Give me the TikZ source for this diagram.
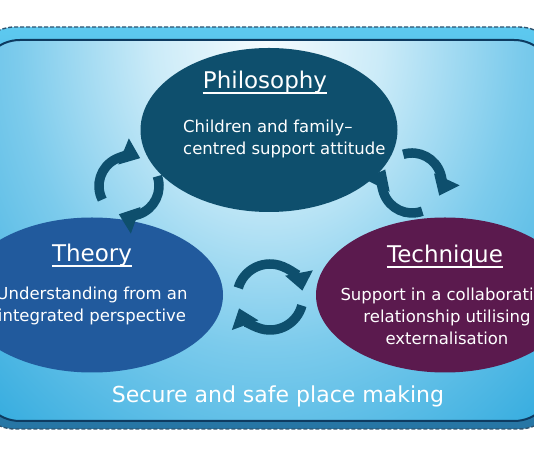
\documentclass[tikz,border=0pt]{standalone}
\usepackage{fontspec}
\setmainfont{DejaVu Sans}
\usepackage{tikz}
\usetikzlibrary{arrows.meta,shapes.geometric}
\definecolor{philoteal}{HTML}{0E4F6D}
\definecolor{theoryblue}{HTML}{215A9D}
\definecolor{techplum}{HTML}{5B1A4E}
\definecolor{framenavy}{HTML}{0D3B61}
\definecolor{dashgrey}{HTML}{2F5470}
\definecolor{bandtop}{HTML}{5DC9F0}
\definecolor{bandbottom}{HTML}{2675A4}
\definecolor{skyblue}{HTML}{19A0DA}
\definecolor{skypale}{HTML}{7CCBEC}
\definecolor{skymist}{HTML}{CBEBF8}
\definecolor{skywhite}{HTML}{F4FBFE}
\pgfdeclareradialshading{skyglow}{\pgfpoint{0bp}{0bp}}{color(0bp)=(skywhite); color(5bp)=(skymist); color(11bp)=(skypale); color(21bp)=(skyblue); color(50bp)=(skyblue)}
\tikzset{
  oval/.style={ellipse, fill=#1, draw=none, inner sep=0pt},
  heading/.style={font=\fontsize{23}{28}\selectfont, text=white, inner sep=0pt, anchor=base},
  blurb/.style={font=\fontsize{16.5}{22}\selectfont, text=white, inner sep=0pt, anchor=base},
  ul/.style={white, line width=1.5pt},
  cyc/.style={philoteal, line width=9.5pt, -{Triangle[width=27pt,length=18pt]}},
}

\begin{document}
\begin{tikzpicture}[x=1pt,y=1pt]

  \useasboundingbox (0,0) rectangle (534,462);
  \clip (0,0) rectangle (534,462);

  \draw[dashgrey, line width=1.4pt, dash pattern=on 4pt off 2pt,
        top color=bandtop, bottom color=bandbottom, rounded corners=40pt]
    (-25,33) rectangle (559,435);
  \begin{scope}
    \clip[rounded corners=40pt] (-20,41) rectangle (554,422);
    \shade[shading=skyglow] (267,422) ellipse[x radius=570, y radius=700];
  \end{scope}
  \draw[framenavy, line width=2pt, rounded corners=40pt] (-20,41) rectangle (554,422);

  \node[oval=philoteal, minimum width=257pt, minimum height=164pt] (philo) at (269,332) {};
  \node[oval=theoryblue, minimum width=262pt, minimum height=155pt] (theory) at (92,167) {};
  \node[oval=techplum, minimum width=258pt, minimum height=155pt] (technique) at (445,167) {};

  \coordinate (leftcyc) at (129,276);
  \coordinate (rightcyc) at (412,279);
  \coordinate (midcyc) at (270,165);
  \draw[cyc] (leftcyc) ++(207:30) arc[start angle=207, end angle=68, radius=30];
  \draw[cyc] (leftcyc) ++(19:30) arc[start angle=19, end angle=-110, radius=30];
  \draw[cyc] (rightcyc) ++(107:30) arc[start angle=107, end angle=-25, radius=30];
  \draw[cyc] (rightcyc) ++(-70:30) arc[start angle=-70, end angle=-207, radius=30];
  \draw[cyc] (midcyc) ++(164:33) arc[start angle=164, end angle=11, radius=33];
  \draw[cyc] (midcyc) ++(-15:33) arc[start angle=-15, end angle=-160, radius=33];

  \node[heading] (philohead) at (265,373) {Philosophy};
  \draw[ul] ([yshift=-4pt]philohead.base west) -- ([yshift=-4pt]philohead.base east);
  \node[blurb, anchor=base west, align=left] (philotext) at (183,307)
    {Children and family–\\centred support attitude};

  \node[heading] (theoryhead) at (92,200) {Theory};
  \draw[ul] ([yshift=-4pt]theoryhead.base west) -- ([yshift=-4pt]theoryhead.base east);
  \node[blurb, align=center] (theorytext) at (92,140)
    {Understanding from an\\integrated perspective};

  \node[heading] (techhead) at (445,199) {Technique};
  \draw[ul] ([yshift=-4pt]techhead.base west) -- ([yshift=-4pt]techhead.base east);
  \node[blurb, align=center] (techtext) at (447,117)
    {Support in a collaborative\\relationship utilising\\externalisation};

  \node[font=\fontsize{22}{26}\selectfont, text=white, inner sep=0pt, anchor=base] (place)
    at (278,59) {Secure and safe place making};

\end{tikzpicture}
\end{document}
